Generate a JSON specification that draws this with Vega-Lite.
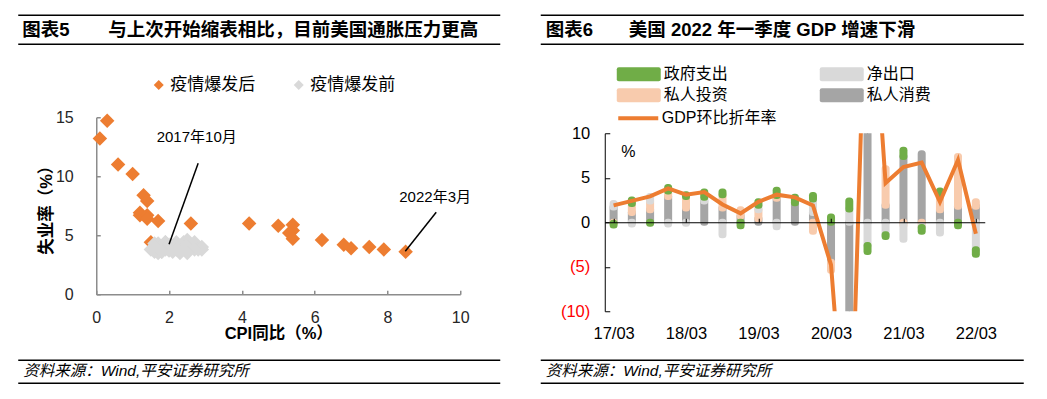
{
  "$schema": "https://vega.github.io/schema/vega-lite/v6.json",
  "background": "white",
  "padding": {"left": 17.25, "top": 13.25, "right": 5, "bottom": 5},
  "spacing": 38.5,
  "resolve": {"scale": {"color": "independent", "stroke": "independent"}, "legend": {"color": "independent", "stroke": "independent"}},
  "config": {
    "view": {"stroke": null},
    "font": "'Liberation Sans', 'Noto Sans CJK SC', sans-serif",
    "axis": {"grid": false}
  },
  "datasets": {
    "spacer": [{"a": 0}],
    "scatter": [
      {"cpi": 1.5, "u": 4.4, "period": "疫情爆发后"},
      {"cpi": 0.3, "u": 14.7, "period": "疫情爆发后"},
      {"cpi": 0.1, "u": 13.2, "period": "疫情爆发后"},
      {"cpi": 0.6, "u": 11.0, "period": "疫情爆发后"},
      {"cpi": 1.0, "u": 10.2, "period": "疫情爆发后"},
      {"cpi": 1.3, "u": 8.4, "period": "疫情爆发后"},
      {"cpi": 1.4, "u": 7.9, "period": "疫情爆发后"},
      {"cpi": 1.2, "u": 6.9, "period": "疫情爆发后"},
      {"cpi": 1.2, "u": 6.7, "period": "疫情爆发后"},
      {"cpi": 1.4, "u": 6.7, "period": "疫情爆发后"},
      {"cpi": 1.4, "u": 6.4, "period": "疫情爆发后"},
      {"cpi": 1.7, "u": 6.2, "period": "疫情爆发后"},
      {"cpi": 2.6, "u": 6.0, "period": "疫情爆发后"},
      {"cpi": 4.2, "u": 6.0, "period": "疫情爆发后"},
      {"cpi": 5.0, "u": 5.8, "period": "疫情爆发后"},
      {"cpi": 5.4, "u": 5.9, "period": "疫情爆发后"},
      {"cpi": 5.4, "u": 5.4, "period": "疫情爆发后"},
      {"cpi": 5.3, "u": 5.2, "period": "疫情爆发后"},
      {"cpi": 5.4, "u": 4.7, "period": "疫情爆发后"},
      {"cpi": 6.2, "u": 4.6, "period": "疫情爆发后"},
      {"cpi": 6.8, "u": 4.2, "period": "疫情爆发后"},
      {"cpi": 7.0, "u": 3.9, "period": "疫情爆发后"},
      {"cpi": 7.5, "u": 4.0, "period": "疫情爆发后"},
      {"cpi": 7.9, "u": 3.8, "period": "疫情爆发后"},
      {"cpi": 8.5, "u": 3.6, "period": "疫情爆发后"},
      {"cpi": 2.5, "u": 4.6, "period": "疫情爆发前"},
      {"cpi": 2.7, "u": 4.4, "period": "疫情爆发前"},
      {"cpi": 2.4, "u": 4.4, "period": "疫情爆发前"},
      {"cpi": 2.2, "u": 4.4, "period": "疫情爆发前"},
      {"cpi": 1.9, "u": 4.4, "period": "疫情爆发前"},
      {"cpi": 1.6, "u": 4.3, "period": "疫情爆发前"},
      {"cpi": 1.7, "u": 4.3, "period": "疫情爆发前"},
      {"cpi": 1.9, "u": 4.4, "period": "疫情爆发前"},
      {"cpi": 2.2, "u": 4.3, "period": "疫情爆发前"},
      {"cpi": 2.0, "u": 4.2, "period": "疫情爆发前"},
      {"cpi": 2.2, "u": 4.2, "period": "疫情爆发前"},
      {"cpi": 2.1, "u": 4.1, "period": "疫情爆发前"},
      {"cpi": 2.1, "u": 4.0, "period": "疫情爆发前"},
      {"cpi": 2.2, "u": 4.1, "period": "疫情爆发前"},
      {"cpi": 2.4, "u": 4.0, "period": "疫情爆发前"},
      {"cpi": 2.5, "u": 4.0, "period": "疫情爆发前"},
      {"cpi": 2.8, "u": 3.8, "period": "疫情爆发前"},
      {"cpi": 2.9, "u": 4.0, "period": "疫情爆发前"},
      {"cpi": 2.9, "u": 3.8, "period": "疫情爆发前"},
      {"cpi": 2.7, "u": 3.8, "period": "疫情爆发前"},
      {"cpi": 2.3, "u": 3.7, "period": "疫情爆发前"},
      {"cpi": 2.5, "u": 3.8, "period": "疫情爆发前"},
      {"cpi": 2.2, "u": 3.8, "period": "疫情爆发前"},
      {"cpi": 1.9, "u": 3.9, "period": "疫情爆发前"},
      {"cpi": 1.6, "u": 4.0, "period": "疫情爆发前"},
      {"cpi": 1.5, "u": 3.8, "period": "疫情爆发前"},
      {"cpi": 1.9, "u": 3.8, "period": "疫情爆发前"},
      {"cpi": 2.0, "u": 3.7, "period": "疫情爆发前"},
      {"cpi": 1.8, "u": 3.6, "period": "疫情爆发前"},
      {"cpi": 1.6, "u": 3.6, "period": "疫情爆发前"},
      {"cpi": 1.8, "u": 3.7, "period": "疫情爆发前"},
      {"cpi": 1.7, "u": 3.6, "period": "疫情爆发前"},
      {"cpi": 1.7, "u": 3.5, "period": "疫情爆发前"},
      {"cpi": 1.8, "u": 3.6, "period": "疫情爆发前"},
      {"cpi": 2.1, "u": 3.6, "period": "疫情爆发前"},
      {"cpi": 2.3, "u": 3.6, "period": "疫情爆发前"},
      {"cpi": 2.5, "u": 3.5, "period": "疫情爆发前"},
      {"cpi": 2.3, "u": 3.5, "period": "疫情爆发前"}
    ],
    "comp": [
      {"q": "2017-03-01", "comp": "私人消费", "ord": 0, "v": 1.7},
      {"q": "2017-06-01", "comp": "私人消费", "ord": 0, "v": 1.1},
      {"q": "2017-09-01", "comp": "私人消费", "ord": 0, "v": 1.4},
      {"q": "2017-12-01", "comp": "私人消费", "ord": 0, "v": 2.9},
      {"q": "2018-03-01", "comp": "私人消费", "ord": 0, "v": 1.6},
      {"q": "2018-06-01", "comp": "私人消费", "ord": 0, "v": 2.4},
      {"q": "2018-09-01", "comp": "私人消费", "ord": 0, "v": 1.6},
      {"q": "2018-12-01", "comp": "私人消费", "ord": 0, "v": 0.7},
      {"q": "2019-03-01", "comp": "私人消费", "ord": 0, "v": 0.4},
      {"q": "2019-06-01", "comp": "私人消费", "ord": 0, "v": 2.7},
      {"q": "2019-09-01", "comp": "私人消费", "ord": 0, "v": 2.2},
      {"q": "2019-12-01", "comp": "私人消费", "ord": 0, "v": 1.1},
      {"q": "2020-03-01", "comp": "私人消费", "ord": 0, "v": -4.5},
      {"q": "2020-06-01", "comp": "私人消费", "ord": 0, "v": -24.3},
      {"q": "2020-09-01", "comp": "私人消费", "ord": 0, "v": 25.5},
      {"q": "2020-12-01", "comp": "私人消费", "ord": 0, "v": 1.9},
      {"q": "2021-03-01", "comp": "私人消费", "ord": 0, "v": 7.4},
      {"q": "2021-06-01", "comp": "私人消费", "ord": 0, "v": 7.7},
      {"q": "2021-09-01", "comp": "私人消费", "ord": 0, "v": 1.4},
      {"q": "2021-12-01", "comp": "私人消费", "ord": 0, "v": 1.8},
      {"q": "2022-03-01", "comp": "私人消费", "ord": 0, "v": 1.8},
      {"q": "2017-03-01", "comp": "私人投资", "ord": 1, "v": -0.1},
      {"q": "2017-06-01", "comp": "私人投资", "ord": 1, "v": 1.0},
      {"q": "2017-09-01", "comp": "私人投资", "ord": 1, "v": 1.0},
      {"q": "2017-12-01", "comp": "私人投资", "ord": 1, "v": 0.6},
      {"q": "2018-03-01", "comp": "私人投资", "ord": 1, "v": 1.3},
      {"q": "2018-09-01", "comp": "私人投资", "ord": 1, "v": 1.5},
      {"q": "2018-12-01", "comp": "私人投资", "ord": 1, "v": 0.7},
      {"q": "2019-03-01", "comp": "私人投资", "ord": 1, "v": 1.0},
      {"q": "2019-06-01", "comp": "私人投资", "ord": 1, "v": 0.3},
      {"q": "2019-12-01", "comp": "私人投资", "ord": 1, "v": -1.0},
      {"q": "2020-03-01", "comp": "私人投资", "ord": 1, "v": -0.9},
      {"q": "2020-06-01", "comp": "私人投资", "ord": 1, "v": -8.8},
      {"q": "2020-09-01", "comp": "私人投资", "ord": 1, "v": 11.9},
      {"q": "2020-12-01", "comp": "私人投资", "ord": 1, "v": 4.1},
      {"q": "2021-03-01", "comp": "私人投资", "ord": 1, "v": -0.3},
      {"q": "2021-06-01", "comp": "私人投资", "ord": 1, "v": -0.4},
      {"q": "2021-09-01", "comp": "私人投资", "ord": 1, "v": 1.8},
      {"q": "2021-12-01", "comp": "私人投资", "ord": 1, "v": 5.6},
      {"q": "2022-03-01", "comp": "私人投资", "ord": 1, "v": 0.5},
      {"q": "2017-03-01", "comp": "净出口", "ord": 2, "v": 0.4},
      {"q": "2017-06-01", "comp": "净出口", "ord": 2, "v": -0.2},
      {"q": "2017-09-01", "comp": "净出口", "ord": 2, "v": 0.5},
      {"q": "2017-12-01", "comp": "净出口", "ord": 2, "v": -0.2},
      {"q": "2018-03-01", "comp": "净出口", "ord": 2, "v": -0.1},
      {"q": "2018-06-01", "comp": "净出口", "ord": 2, "v": 0.4},
      {"q": "2018-09-01", "comp": "净出口", "ord": 2, "v": -1.4},
      {"q": "2019-03-01", "comp": "净出口", "ord": 2, "v": 0.5},
      {"q": "2019-06-01", "comp": "净出口", "ord": 2, "v": -0.5},
      {"q": "2019-12-01", "comp": "净出口", "ord": 2, "v": 1.5},
      {"q": "2020-06-01", "comp": "净出口", "ord": 2, "v": 1.5},
      {"q": "2020-09-01", "comp": "净出口", "ord": 2, "v": -2.6},
      {"q": "2020-12-01", "comp": "净出口", "ord": 2, "v": -1.4},
      {"q": "2021-03-01", "comp": "净出口", "ord": 2, "v": -1.6},
      {"q": "2021-06-01", "comp": "净出口", "ord": 2, "v": -0.2},
      {"q": "2021-09-01", "comp": "净出口", "ord": 2, "v": -1.2},
      {"q": "2022-03-01", "comp": "净出口", "ord": 2, "v": -3.1},
      {"q": "2017-03-01", "comp": "政府支出", "ord": 3, "v": -0.2},
      {"q": "2017-06-01", "comp": "政府支出", "ord": 3, "v": 0.4},
      {"q": "2017-09-01", "comp": "政府支出", "ord": 3, "v": -0.1},
      {"q": "2017-12-01", "comp": "政府支出", "ord": 3, "v": 0.4},
      {"q": "2018-03-01", "comp": "政府支出", "ord": 3, "v": 0.2},
      {"q": "2018-06-01", "comp": "政府支出", "ord": 3, "v": 0.6},
      {"q": "2018-09-01", "comp": "政府支出", "ord": 3, "v": 0.3},
      {"q": "2018-12-01", "comp": "政府支出", "ord": 3, "v": -0.4},
      {"q": "2019-03-01", "comp": "政府支出", "ord": 3, "v": 0.4},
      {"q": "2019-06-01", "comp": "政府支出", "ord": 3, "v": 0.6},
      {"q": "2019-09-01", "comp": "政府支出", "ord": 3, "v": 0.6},
      {"q": "2019-12-01", "comp": "政府支出", "ord": 3, "v": 0.4},
      {"q": "2020-03-01", "comp": "政府支出", "ord": 3, "v": 0.6},
      {"q": "2020-06-01", "comp": "政府支出", "ord": 3, "v": 0.9},
      {"q": "2020-09-01", "comp": "政府支出", "ord": 3, "v": -0.7},
      {"q": "2020-12-01", "comp": "政府支出", "ord": 3, "v": -0.2},
      {"q": "2021-03-01", "comp": "政府支出", "ord": 3, "v": 0.7},
      {"q": "2021-06-01", "comp": "政府支出", "ord": 3, "v": -0.4},
      {"q": "2021-09-01", "comp": "政府支出", "ord": 3, "v": 0.3},
      {"q": "2021-12-01", "comp": "政府支出", "ord": 3, "v": -0.4},
      {"q": "2022-03-01", "comp": "政府支出", "ord": 3, "v": -0.5}
    ],
    "gdp": [
      {"q": "2017-03-01", "g": 1.9},
      {"q": "2017-06-01", "g": 2.4},
      {"q": "2017-09-01", "g": 2.9},
      {"q": "2017-12-01", "g": 3.8},
      {"q": "2018-03-01", "g": 3.1},
      {"q": "2018-06-01", "g": 3.4},
      {"q": "2018-09-01", "g": 2.0},
      {"q": "2018-12-01", "g": 1.0},
      {"q": "2019-03-01", "g": 2.3},
      {"q": "2019-06-01", "g": 3.1},
      {"q": "2019-09-01", "g": 2.8},
      {"q": "2019-12-01", "g": 1.9},
      {"q": "2020-03-01", "g": -4.8},
      {"q": "2020-06-01", "g": -31.2},
      {"q": "2020-09-01", "g": 33.8},
      {"q": "2020-12-01", "g": 4.4},
      {"q": "2021-03-01", "g": 6.2},
      {"q": "2021-06-01", "g": 6.7},
      {"q": "2021-09-01", "g": 2.3},
      {"q": "2021-12-01", "g": 7.0},
      {"q": "2022-03-01", "g": -1.3}
    ]
  },
  "hconcat": [
    {
      "spacing": 0,
      "resolve": {"scale": {"color": "independent"}, "legend": {"color": "independent"}},
      "vconcat": [
        {
          "width": 1,
          "height": 1,
          "data": {"name": "spacer"},
          "mark": {"type": "rule", "opacity": 0, "strokeWidth": 0},
          "encoding": {"y": {"datum": 0, "type": "quantitative", "scale": {"domain": [0, 1]}, "axis": null}}
        },
        {
          "width": 364,
          "height": 177,
          "resolve": {"scale": {"x": "independent", "y": "independent"}},
          "layer": [
            {
              "layer": [
                {
                  "data": {"name": "scatter"},
                  "mark": {"type": "point", "shape": "diamond", "filled": true, "size": 210, "opacity": 1, "strokeWidth": 0},
                  "encoding": {
                    "x": {
                      "field": "cpi", "type": "quantitative",
                      "scale": {"domain": [0, 10], "nice": false, "zero": false},
                      "axis": {
                        "values": [0, 2, 4, 6, 8, 10], "title": "CPI同比（%）",
                        "titleFontSize": 16.5, "titleFontWeight": "bold", "titleColor": "#000000", "titlePadding": 0,
                        "labelFontSize": 16, "labelColor": "#262626", "labelPadding": 19, "labelFlush": false,
                        "tickSize": -4, "tickColor": "#8c8c8c", "tickWidth": 1.5,
                        "domainColor": "#8c8c8c", "domainWidth": 1.5
                      }
                    },
                    "y": {
                      "field": "u", "type": "quantitative",
                      "scale": {"domain": [0, 15], "nice": false, "zero": false},
                      "axis": {
                        "values": [0, 5, 10, 15], "title": "失业率（%）",
                        "titleFontSize": 16.5, "titleFontWeight": "bold", "titleColor": "#000000", "titlePadding": 1,
                        "labelFontSize": 16, "labelColor": "#262626", "labelPadding": 27,
                        "tickSize": -4, "tickColor": "#8c8c8c", "tickWidth": 1.5,
                        "domainColor": "#8c8c8c", "domainWidth": 1.5
                      }
                    },
                    "color": {
                      "field": "period", "type": "nominal",
                      "scale": {"domain": ["疫情爆发后", "疫情爆发前"], "range": ["#ED7D31", "#D9D9D9"]},
                      "legend": {
                        "orient": "none", "legendX": 54, "legendY": -41, "direction": "horizontal", "columns": 2,
                        "title": null, "symbolType": "diamond", "symbolSize": 100, "symbolStrokeWidth": 0,
                        "labelOffset": 3, "columnPadding": 35, "labelFontSize": 17, "labelColor": "#000000", "padding": 0
                      }
                    }
                  }
                },
                {
                  "data": {"values": [
                    {"x": 2.0, "y": 4.24, "x2": 2.8, "y2": 11.1},
                    {"x": 8.49, "y": 3.64, "x2": 9.34, "y2": 6.95}
                  ]},
                  "mark": {"type": "rule", "color": "#000000", "strokeWidth": 1.5},
                  "encoding": {
                    "x": {"field": "x", "type": "quantitative"},
                    "y": {"field": "y", "type": "quantitative"},
                    "x2": {"field": "x2"},
                    "y2": {"field": "y2"}
                  }
                },
                {
                  "data": {"values": [
                    {"x": 2.76, "y": 13.3, "t": "2017年10月"},
                    {"x": 9.31, "y": 8.22, "t": "2022年3月"}
                  ]},
                  "mark": {"type": "text", "fontSize": 15, "color": "#000000", "align": "center", "baseline": "middle"},
                  "encoding": {
                    "x": {"field": "x", "type": "quantitative"},
                    "y": {"field": "y", "type": "quantitative"},
                    "text": {"field": "t"}
                  }
                }
              ]
            },
            {
              "layer": [
                {
                  "data": {"values": [
                    {"x": -2.143, "x2": 11.099, "y": 23.644},
                    {"x": -2.143, "x2": 11.099, "y": 21.186},
                    {"x": -2.143, "x2": 11.099, "y": -5.593},
                    {"x": -2.143, "x2": 11.099, "y": -7.542}
                  ]},
                  "mark": {"type": "rule", "color": "#000000", "strokeWidth": 1.5},
                  "encoding": {
                    "x": {"field": "x", "type": "quantitative", "scale": {"domain": [0, 10], "nice": false, "zero": false}, "axis": null},
                    "x2": {"field": "x2"},
                    "y": {"field": "y", "type": "quantitative", "scale": {"domain": [0, 15], "nice": false, "zero": false}, "axis": null}
                  }
                },
                {
                  "data": {"values": [
                    {"x": -2.033, "y": 22.373, "t": "图表5"},
                    {"x": 0.33, "y": 22.373, "t": "与上次开始缩表相比，目前美国通胀压力更高"}
                  ]},
                  "mark": {"type": "text", "fontSize": 18.5, "fontWeight": "bold", "color": "#000000", "align": "left", "baseline": "middle"},
                  "encoding": {
                    "x": {"field": "x", "type": "quantitative", "axis": null},
                    "y": {"field": "y", "type": "quantitative", "axis": null},
                    "text": {"field": "t"}
                  }
                },
                {
                  "data": {"values": [
                    {"x": -2.005, "y": -6.53, "t": "资料来源：Wind,平安证券研究所"}
                  ]},
                  "mark": {"type": "text", "fontSize": 15.5, "fontStyle": "italic", "color": "#000000", "align": "left", "baseline": "middle"},
                  "encoding": {
                    "x": {"field": "x", "type": "quantitative", "axis": null},
                    "y": {"field": "y", "type": "quantitative", "axis": null},
                    "text": {"field": "t"}
                  }
                }
              ]
            }
          ]
        }
      ]
    },
    {
      "spacing": 0,
      "resolve": {"scale": {"color": "independent", "stroke": "independent"}, "legend": {"color": "independent", "stroke": "independent"}},
      "vconcat": [
        {
          "width": 1,
          "height": 1,
          "data": {"name": "spacer"},
          "mark": {"type": "rule", "opacity": 0, "strokeWidth": 0},
          "encoding": {"y": {"datum": 0, "type": "quantitative", "scale": {"domain": [0, 1]}, "axis": null}}
        },
        {
          "width": 380,
          "height": 178,
          "resolve": {"scale": {"x": "independent", "y": "independent"}},
          "layer": [
            {
              "resolve": {"axis": {"x": "independent"}, "scale": {"stroke": "independent"}, "legend": {"stroke": "independent"}},
              "layer": [
                {
                  "data": {"name": "comp"},
                  "mark": {"type": "bar", "width": 1, "strokeWidth": 7, "strokeJoin": "round", "clip": true},
                  "encoding": {
                    "x": {
                      "field": "q", "type": "temporal",
                      "scale": {"type": "utc", "domain": [
                        {"year": 2017, "month": 2, "date": 9, "hours": 15, "utc": true},
                        {"year": 2022, "month": 3, "date": 20, "hours": 15, "utc": true}
                      ]},
                      "axis": {
                        "orient": "bottom", "title": null,
                        "values": [
                          {"year": 2017, "month": 3, "date": 1, "utc": true},
                          {"year": 2018, "month": 3, "date": 1, "utc": true},
                          {"year": 2019, "month": 3, "date": 1, "utc": true},
                          {"year": 2020, "month": 3, "date": 1, "utc": true},
                          {"year": 2021, "month": 3, "date": 1, "utc": true},
                          {"year": 2022, "month": 3, "date": 1, "utc": true}
                        ],
                        "labelExpr": "utcFormat(datum.value, '%y/%m')",
                        "domain": false, "ticks": false, "tickSize": 0, "labelPadding": 14,
                        "labelFontSize": 16.5, "labelColor": "#000000", "labelFlush": false, "labelOverlap": false
                      }
                    },
                    "y": {
                      "field": "v", "type": "quantitative", "stack": "zero",
                      "scale": {"domain": [-10, 10], "nice": false, "zero": false},
                      "axis": {
                        "title": null, "values": [-10, -5, 0, 5, 10],
                        "labelExpr": "datum.value < 0 ? '(' + abs(datum.value) + ')' : datum.value + '\u2008'",
                        "labelColor": {"condition": {"test": "datum.value < 0", "value": "#FF0000"}, "value": "#000000"},
                        "labelFontSize": 16.5, "labelPadding": 20,
                        "tickSize": -5, "tickColor": "#000000", "tickWidth": 1,
                        "domainColor": "#000000", "domainWidth": 1
                      }
                    },
                    "color": {
                      "field": "comp", "type": "nominal",
                      "scale": {"domain": ["政府支出", "私人投资", "净出口", "私人消费"], "range": ["#70AD47", "#F8CBAD", "#D9D9D9", "#A5A5A5"]},
                      "legend": {
                        "orient": "none", "legendX": 26, "legendY": -67, "columns": 2, "title": null,
                        "symbolType": "M-2.85,-1H2.85Q3.14,-1 3.14,-0.7V0.7Q3.14,1 2.85,1H-2.85Q-3.14,1 -3.14,0.7V-0.7Q-3.14,-1 -2.85,-1Z",
                        "symbolSize": 196, "symbolStrokeWidth": 0, "symbolOpacity": 1,
                        "labelOffset": 17, "columnPadding": 91, "rowPadding": 5,
                        "labelFontSize": 16, "labelColor": "#000000", "padding": 0
                      }
                    },
                    "stroke": {
                      "field": "comp", "type": "nominal",
                      "scale": {"domain": ["政府支出", "私人投资", "净出口", "私人消费"], "range": ["#70AD47", "#F8CBAD", "#D9D9D9", "#A5A5A5"]},
                      "legend": null
                    },
                    "order": {"field": "ord", "type": "quantitative"}
                  }
                },
                {
                  "data": {"name": "gdp"},
                  "mark": {"type": "line", "strokeWidth": 4, "clip": true},
                  "encoding": {
                    "x": {
                      "field": "q", "type": "temporal",
                      "axis": {
                        "orient": "top", "offset": -89, "title": null, "labels": false,
                        "values": [
                          {"year": 2017, "month": 3, "date": 1, "utc": true},
                          {"year": 2018, "month": 3, "date": 1, "utc": true},
                          {"year": 2019, "month": 3, "date": 1, "utc": true},
                          {"year": 2020, "month": 3, "date": 1, "utc": true},
                          {"year": 2021, "month": 3, "date": 1, "utc": true},
                          {"year": 2022, "month": 3, "date": 1, "utc": true}
                        ],
                        "ticks": true, "tickSize": 4, "tickColor": "#000000", "tickWidth": 1,
                        "domainColor": "#000000", "domainWidth": 1, "zindex": 1
                      }
                    },
                    "y": {"field": "g", "type": "quantitative"},
                    "stroke": {
                      "datum": "GDP环比折年率", "type": "nominal",
                      "scale": {"domain": ["GDP环比折年率"], "range": ["#ED7D31"]},
                      "legend": {
                        "orient": "none", "legendX": 11.5, "legendY": -37, "title": null,
                        "symbolType": "stroke", "symbolSize": 1600, "symbolStrokeWidth": 4,
                        "labelOffset": 1.5, "labelFontSize": 16, "labelColor": "#000000", "padding": 0
                      }
                    }
                  }
                },
                {
                  "data": {"values": [{"q": "2017-05-14", "v": 7.87, "t": "%"}]},
                  "mark": {"type": "text", "fontSize": 16, "color": "#000000", "align": "center", "baseline": "middle"},
                  "encoding": {
                    "x": {"field": "q", "type": "temporal", "axis": null},
                    "y": {"field": "v", "type": "quantitative"},
                    "text": {"field": "t"}
                  }
                }
              ]
            },
            {
              "layer": [
                {
                  "data": {"values": [
                    {"x": -64, "x2": 419, "y": 23.258},
                    {"x": -64, "x2": 419, "y": 20.0},
                    {"x": -64, "x2": 419, "y": -15.506},
                    {"x": -64, "x2": 419, "y": -18.09}
                  ]},
                  "mark": {"type": "rule", "color": "#000000", "strokeWidth": 1.5},
                  "encoding": {
                    "x": {"field": "x", "type": "quantitative", "scale": {"domain": [0, 380], "nice": false, "zero": false}, "axis": null},
                    "x2": {"field": "x2"},
                    "y": {"field": "y", "type": "quantitative", "scale": {"domain": [-10, 10], "nice": false, "zero": false}, "axis": null}
                  }
                },
                {
                  "data": {"values": [
                    {"x": -59, "y": 21.573, "t": "图表6"},
                    {"x": 24, "y": 21.573, "t": "美国 2022 年一季度 GDP 增速下滑"}
                  ]},
                  "mark": {"type": "text", "fontSize": 18.5, "fontWeight": "bold", "color": "#000000", "align": "left", "baseline": "middle"},
                  "encoding": {
                    "x": {"field": "x", "type": "quantitative", "axis": null},
                    "y": {"field": "y", "type": "quantitative", "axis": null},
                    "text": {"field": "t"}
                  }
                },
                {
                  "data": {"values": [
                    {"x": -59, "y": -16.742, "t": "资料来源：Wind,平安证券研究所"}
                  ]},
                  "mark": {"type": "text", "fontSize": 15.5, "fontStyle": "italic", "color": "#000000", "align": "left", "baseline": "middle"},
                  "encoding": {
                    "x": {"field": "x", "type": "quantitative", "axis": null},
                    "y": {"field": "y", "type": "quantitative", "axis": null},
                    "text": {"field": "t"}
                  }
                }
              ]
            }
          ]
        }
      ]
    }
  ]
}
